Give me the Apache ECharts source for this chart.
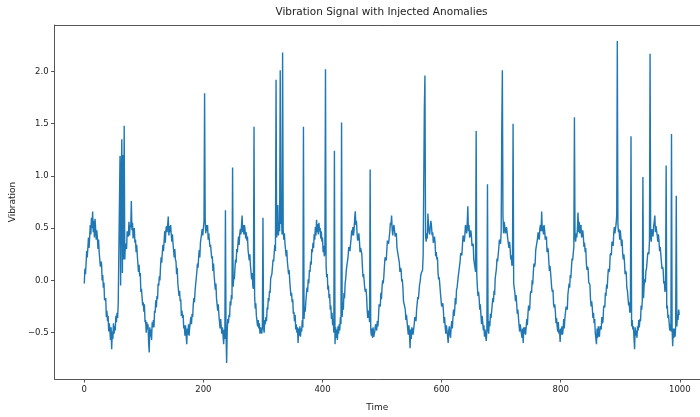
<!DOCTYPE html>
<html>
<head>
<meta charset="utf-8">
<script src="https://cdn.jsdelivr.net/npm/echarts@6/dist/echarts.min.js"></script>
<style>
  html, body { margin: 0; padding: 0; background: #fff; }
  #chart { width: 700px; height: 417px; }
</style>
</head>
<body>
<div id="chart"></div>
<script>
// Vibration readings, one per time step (t = 0 .. 999), written cycle by cycle
const vibration = [
  -0.03,0.11,0.06,0.16,0.28,0.22,0.31,0.41,0.31,0.41,0.53,0.44,0.60,0.50,0.66,0.46,0.57,0.41,0.59,0.50,0.39,0.48,0.41,0.30,0.39,0.27,0.28,0.13,0.18,0.16,0.00,0.05,-0.07,-0.02,-0.19,-0.19,-0.17,-0.35,-0.29,-0.39,-0.34,-0.49,-0.41,-0.48,-0.57,-0.45,-0.66,-0.49,-0.56,-0.41,-0.51,-0.44,-0.48,-0.34,-0.40,-0.31,-0.36,-0.22,-0.21,-0.22,1.19,-0.05,0.95,
  1.35,0.07,1.20,0.20,1.48,0.20,0.35,0.33,0.30,0.47,0.44,0.42,0.56,0.43,0.53,0.51,0.76,0.48,0.55,0.40,0.48,0.50,0.36,0.39,0.27,0.34,0.24,0.24,0.08,0.15,0.04,0.07,-0.11,-0.08,-0.09,-0.24,-0.21,-0.30,-0.23,-0.40,-0.38,-0.50,-0.40,-0.47,-0.42,-0.59,-0.69,-0.45,-0.54,-0.47,-0.57,-0.40,-0.45,-0.38,-0.45,-0.29,-0.31,-0.19,-0.26,-0.15,-0.18,-0.03,-0.05,
  0.04,0.00,0.13,0.22,0.17,0.26,0.34,0.28,0.37,0.47,0.36,0.48,0.52,0.46,0.53,0.61,0.43,0.52,0.46,0.53,0.44,0.37,0.44,0.35,0.36,0.22,0.30,0.20,0.18,0.06,0.12,-0.02,-0.03,-0.15,-0.10,-0.20,-0.18,-0.34,-0.29,-0.36,-0.33,-0.46,-0.43,-0.53,-0.43,-0.52,-0.61,-0.46,-0.52,-0.42,-0.53,-0.45,-0.46,-0.35,-0.42,-0.32,-0.35,-0.23,-0.17,-0.21,-0.10,-0.04,
  -0.04,0.08,0.16,0.12,0.22,0.29,0.22,0.36,0.37,0.35,0.49,0.43,0.50,0.56,1.79,0.59,0.45,0.53,0.47,0.53,0.39,0.45,0.44,0.32,0.34,0.35,0.21,0.23,0.09,0.16,0.05,0.04,-0.09,-0.03,-0.17,-0.17,-0.29,-0.23,-0.33,-0.32,-0.46,-0.37,-0.45,-0.51,-0.45,-0.53,-0.61,-0.47,-0.56,0.67,-0.50,-0.79,-0.48,-0.37,-0.41,-0.33,-0.35,-0.20,-0.24,-0.14,-0.18,1.08,-0.06,
  0.03,0.01,0.12,0.20,0.17,0.30,0.27,0.35,0.42,0.34,0.44,0.49,0.44,0.53,0.62,0.46,0.53,0.44,0.53,0.48,0.40,0.46,0.38,0.42,0.29,0.30,0.19,0.25,0.14,0.14,0.01,0.07,-0.06,-0.08,1.47,-0.15,-0.27,-0.22,-0.34,-0.33,-0.44,-0.38,-0.46,-0.41,-0.51,-0.45,-0.49,-0.51,-0.44,0.60,-0.45,-0.50,-0.38,-0.42,-0.35,-0.39,-0.26,-0.28,-0.17,-0.20,-0.10,-0.12,0.02,
  0.04,0.06,0.06,0.20,0.18,0.27,0.34,0.28,1.92,0.41,0.47,0.72,0.43,0.55,0.47,2.01,0.54,0.68,0.44,2.18,0.48,0.39,0.45,0.35,0.35,0.23,0.29,0.18,0.17,0.06,0.10,-0.01,-0.01,-0.15,-0.12,-0.21,-0.18,-0.32,-0.30,-0.39,-0.33,-0.47,-0.42,-0.50,-0.45,-0.60,-0.46,-0.53,-0.44,-0.54,-0.46,-0.49,-0.38,-0.45,1.47,-0.37,-0.25,-0.30,-0.20,-0.20,-0.07,-0.11,0.01,
  -0.03,0.10,0.08,0.18,0.15,0.30,0.27,0.36,0.31,0.44,0.39,0.51,0.43,0.58,0.46,0.54,0.44,0.55,0.47,0.50,0.40,0.47,0.37,0.41,0.27,0.33,0.23,0.26,2.02,0.15,0.03,0.06,-0.09,-0.05,-0.17,-0.13,-0.28,-0.24,-0.37,-0.31,-0.43,-0.37,-0.50,1.24,-0.61,-0.45,-0.55,-0.47,-0.57,-0.44,-0.51,-0.42,-0.48,-0.35,-0.42,1.51,-0.35,-0.22,-0.28,-0.12,-0.17,-0.03,
  0.02,0.10,0.09,0.09,0.23,0.32,0.30,0.28,0.29,0.40,0.48,0.43,0.51,0.43,0.48,0.59,0.66,0.53,0.57,0.45,0.38,0.40,0.45,0.38,0.27,0.31,0.32,0.25,0.13,0.03,0.06,0.06,-0.08,-0.11,-0.08,-0.15,-0.28,-0.36,-0.29,-0.31,-0.40,1.06,-0.47,-0.53,-0.46,-0.55,-0.45,-0.54,-0.55,-0.48,-0.42,-0.43,-0.48,-0.39,-0.44,-0.35,-0.23,-0.22,-0.25,-0.12,-0.18,-0.06,0.00,
  -0.03,0.04,0.14,0.22,0.22,0.19,0.29,0.38,0.39,0.35,0.36,0.47,0.55,0.53,0.62,0.48,0.43,0.51,0.53,0.53,0.42,0.42,0.45,0.31,0.31,0.32,0.32,0.17,0.08,0.12,0.10,-0.01,0.01,-0.07,-0.20,-0.21,-0.19,-0.28,-0.38,-0.33,-0.33,-0.46,-0.52,-0.43,-0.50,-0.65,-0.47,-0.56,-0.45,-0.47,-0.52,-0.53,-0.42,-0.35,-0.35,-0.39,-0.28,-0.29,-0.16,-0.18,-0.17,-0.04,-0.01,
  0.05,0.07,0.07,0.10,0.24,0.25,1.65,1.96,0.43,0.37,0.45,0.40,0.64,0.52,0.46,0.44,0.52,0.57,0.52,0.43,0.46,0.36,0.38,0.42,0.36,0.23,0.27,0.20,0.22,0.07,0.01,0.03,0.02,-0.12,-0.13,-0.25,-0.25,-0.22,-0.29,-0.41,-0.35,-0.44,-0.51,-0.43,-0.43,-0.53,-0.60,-0.48,-0.44,-0.52,-0.55,-0.45,-0.39,-0.46,-0.36,-0.28,-0.34,-0.28,-0.17,-0.23,-0.09,-0.07,-0.07,
  0.04,0.03,0.05,0.18,0.26,0.25,0.24,0.34,0.43,0.42,0.37,0.43,0.53,0.49,0.45,0.55,0.71,0.47,0.53,0.41,0.43,0.48,0.43,0.33,0.34,0.35,0.20,0.19,0.20,0.08,1.43,0.06,-0.06,-0.15,-0.11,-0.17,-0.28,-0.23,-0.33,-0.42,-0.34,-0.40,-0.48,-0.43,-0.54,-0.47,-0.54,-0.58,-0.47,0.92,-0.47,-0.51,-0.39,-0.44,-0.32,-0.36,-0.35,-0.23,-0.17,-0.21,-0.10,-0.14,
  0.02,0.01,0.11,0.21,0.18,0.19,0.31,0.39,0.38,0.35,0.47,1.45,2.01,0.62,0.45,0.56,0.52,0.45,0.47,0.51,0.52,0.40,0.41,0.31,0.37,0.31,0.20,0.24,0.14,0.16,1.50,-0.03,-0.02,-0.12,-0.20,-0.14,-0.22,-0.32,-0.28,-0.29,-0.43,-0.49,-0.42,-0.41,-0.51,-0.55,-0.46,-0.60,-0.45,-0.51,-0.45,-0.52,-0.44,-0.37,-0.43,-0.32,-0.24,-0.29,-0.27,-0.13,-0.10,-0.12,0.00,
  -0.04,0.08,0.16,0.13,0.16,0.29,0.30,0.29,0.40,0.46,0.41,0.39,0.50,0.53,0.47,0.66,0.47,0.52,0.44,0.53,0.48,0.39,0.39,0.42,0.27,0.31,0.29,0.18,0.09,0.14,0.07,0.07,-0.08,-0.11,-0.09,-0.23,-0.26,-0.23,-0.30,-0.41,-0.36,-0.44,-0.49,-0.40,-0.51,-0.47,-0.59,-0.46,-0.52,-0.44,-0.52,-0.47,-0.37,-0.46,-0.36,-0.37,-0.25,-0.25,-0.28,-0.14,-0.14,-0.03,-0.07,
  0.05,0.02,0.12,0.21,0.19,0.19,0.32,1.56,0.41,0.37,0.45,0.41,0.49,0.65,0.46,0.56,0.45,0.51,0.53,0.41,0.43,0.48,0.42,0.32,0.36,0.27,0.31,0.17,0.10,0.13,0.11,-0.02,-0.03,-0.04,-0.18,-0.25,-0.20,-0.26,-0.36,-0.31,-0.41,-0.37,-0.50,-0.49,-0.61,-0.46,-0.55,-0.44,-0.52,-0.54,-0.44,-0.44,-0.47,-0.35,-0.41,-0.39,-0.26,-0.24,-0.26,-0.12,-0.15,-0.04,-0.08,
  0.03,0.11,0.08,0.10,0.24,0.26,0.24,0.37,0.37,0.33,0.45,0.51,0.45,0.44,0.54,0.62,2.29,0.54,0.46,0.49,0.39,0.48,0.41,0.33,0.39,0.26,0.20,0.25,0.18,0.06,0.09,0.07,-0.07,-0.10,-0.09,-0.24,-0.21,-0.31,-0.28,1.38,-0.44,-0.38,-0.47,-0.44,-0.55,-0.66,-0.45,-0.53,-0.48,-0.55,-0.44,-0.48,-0.38,-0.45,-0.37,-0.39,-0.24,-0.28,-0.19,0.99,-0.17,-0.05,0.01,
  -0.02,0.09,0.11,0.11,0.25,0.27,0.25,0.38,2.17,0.41,0.37,0.49,0.49,0.42,0.52,0.56,0.62,0.46,0.52,0.52,0.43,0.37,0.44,0.38,0.28,0.32,0.31,0.18,0.11,0.13,0.10,-0.03,-0.01,-0.11,-0.08,1.10,-0.27,-0.24,-0.36,-0.33,-0.34,-0.48,-0.42,-0.49,1.40,-0.46,-0.63,-0.46,-0.55,-0.46,-0.54,-0.44,0.81,-0.44,-0.33,-0.38,-0.28,-0.33
];

const timeTicks = [0, 200, 400, 600, 800, 1000];
const vibrationTicks = [-0.5, 0.0, 0.5, 1.0, 1.5, 2.0];

const titleText = 'Vibration Signal with Injected Anomalies';
const xName = 'Time';
const yName = 'Vibration';

const chart = echarts.init(document.getElementById('chart'), null, { renderer: 'canvas' });

const fmt = v => (v < 0 ? '\u2212' : '') + Math.abs(v).toFixed(1);
const spine = '#555';
const textColor = '#222';
const fontFamily = 'DejaVu Sans, sans-serif';
const xMin = -49.95, xMax = 1033.85;
const yMin = -0.944, yMax = 2.444;

chart.setOption({
  animation: false,
  backgroundColor: '#fff',
  grid: { left: 54, right: 0, top: 25, bottom: 35, show: false },
  graphic: [{
    type: 'text',
    x: 381.5, y: 7,
    style: {
      text: titleText, align: 'center', verticalAlign: 'top',
      fontSize: 10.5, fontFamily, fill: textColor
    }
  }],
  xAxis: [{
    type: 'value', position: 'bottom',
    min: xMin, max: xMax,
    name: xName, nameLocation: 'middle', nameGap: 24,
    nameTextStyle: { fontSize: 9, fontFamily, color: textColor },
    axisLine: { show: true, onZero: false, lineStyle: { color: spine, width: 1 } },
    axisTick: { show: true, length: 3.5, customValues: timeTicks, lineStyle: { color: spine } },
    axisLabel: { customValues: timeTicks, fontSize: 8.5, fontFamily, color: textColor, margin: 6,
                 formatter: v => String(v) },
    splitLine: { show: false }
  }, {
    type: 'value', position: 'top',
    min: xMin, max: xMax,
    axisLine: { show: true, onZero: false, lineStyle: { color: spine, width: 1 } },
    axisTick: { show: false }, axisLabel: { show: false }, splitLine: { show: false }
  }],
  yAxis: {
    type: 'value',
    min: yMin, max: yMax,
    name: yName, nameLocation: 'middle', nameGap: 31, nameRotate: 90,
    nameTextStyle: { fontSize: 9, fontFamily, color: textColor },
    axisLine: { show: true, onZero: false, lineStyle: { color: spine, width: 1 } },
    axisTick: { show: true, length: 3.5, customValues: vibrationTicks, lineStyle: { color: spine } },
    axisLabel: { customValues: vibrationTicks, fontSize: 8.5, fontFamily, color: textColor, margin: 6,
                 formatter: fmt },
    splitLine: { show: false }
  },
  series: [{
    type: 'line',
    xAxisIndex: 0,
    data: vibration.map((v, i) => [i, v]),
    showSymbol: false,
    symbol: 'none',
    lineStyle: { color: '#1f77b4', width: 1.4 },
    itemStyle: { color: '#1f77b4' }
  }]
});
</script>
</body>
</html>
